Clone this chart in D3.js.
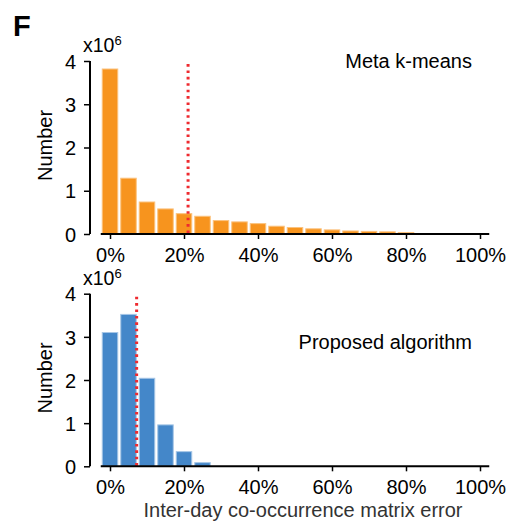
<!DOCTYPE html>
<html>
<head>
<meta charset="utf-8">
<script src="https://cdn.jsdelivr.net/npm/d3@7"></script>
<style>
  html, body { margin: 0; padding: 0; background: #fff; }
  svg { display: block; font-family: "Liberation Sans", Arial, Helvetica, sans-serif; }
</style>
</head>
<body>
<svg id="chart" width="516" height="523"></svg>
<script>
// Histogram bin centres (% error), 5% wide bins
const binCenters = [0, 5, 10, 15, 20, 25, 30, 35, 40, 45, 50, 55, 60, 65, 70, 75, 80, 85, 90, 95, 100];
// Counts in millions per bin
const metaKmeansCounts = [3.815, 1.29, 0.74, 0.58, 0.47, 0.41, 0.31, 0.28, 0.24, 0.18, 0.15, 0.12, 0.095, 0.07, 0.06, 0.05, 0.035, 0.008, 0, 0, 0];
const proposedCounts   = [3.10, 3.52, 2.04, 0.96, 0.34, 0.085, 0, 0, 0, 0, 0, 0, 0, 0, 0, 0, 0, 0, 0, 0, 0];
// Mean error markers (%)
const metaKmeansMean = 21.1;
const proposedMean = 7.2;
const xTicks = [0, 20, 40, 60, 80, 100];
const yTicks = [0, 1, 2, 3, 4];
const panelTitles = ["Meta k-means", "Proposed algorithm"];
const binWidth = 5;

const svg = d3.select("#chart");

const x = d3.scaleLinear().domain([-2.5, 102.5]).range([100.75, 489.25]);

const panels = [
  { title: panelTitles[0], counts: metaKmeansCounts, mean: metaKmeansMean,
    fill: "#F7941E", stroke: "#FBC27E", top: 61, bottom: 234, titleY: 68 },
  { title: panelTitles[1], counts: proposedCounts, mean: proposedMean,
    fill: "#4487C9", stroke: "#A6C6E6", top: 293.7, bottom: 466.3, titleY: 349 }
];

panels.forEach(p => {
  const y = d3.scaleLinear().domain([0, 4]).range([p.bottom, p.top]);
  const g = svg.append("g");

  // bars
  const data = binCenters.map((c, i) => ({ c, v: p.counts[i] })).filter(d => d.v > 0);
  g.selectAll("rect.bar").data(data).enter().append("rect")
    .attr("class", "bar")
    .attr("x", d => x(d.c - binWidth / 2) + 1.5)
    .attr("width", d => x(d.c + binWidth / 2) - x(d.c - binWidth / 2) - 3)
    .attr("y", d => y(d.v))
    .attr("height", d => y(0) - y(d.v))
    .attr("fill", p.fill)
    .attr("stroke", p.stroke)
    .attr("stroke-width", 1);

  // mean marker
  g.append("line")
    .attr("x1", x(p.mean)).attr("x2", x(p.mean))
    .attr("y1", y(3.93)).attr("y2", y(0))
    .attr("stroke", "#EE2A2F")
    .attr("stroke-width", 3)
    .attr("stroke-dasharray", "2.6,3.8");

  // x axis
  const xAxis = g.append("g")
    .attr("transform", `translate(0,${p.bottom})`)
    .call(d3.axisBottom(x).tickValues(xTicks).tickSize(5).tickPadding(4)
      .tickFormat(d => d + "%"));
  xAxis.select(".domain").attr("stroke", "#000").attr("stroke-width", 2)
    .attr("d", `M${x.range()[0]},0H${x.range()[1]}`);
  xAxis.selectAll(".tick line").attr("stroke", "#000").attr("stroke-width", 1.5);
  xAxis.selectAll(".tick text").attr("fill", "#000").attr("font-size", 20)
    .attr("dy", "0.95em");

  // y axis
  const yAxis = g.append("g")
    .attr("transform", "translate(90,0)")
    .call(d3.axisLeft(y).tickValues(yTicks).tickSize(6).tickPadding(8)
      .tickFormat(d3.format("d")));
  yAxis.select(".domain").attr("stroke", "#000").attr("stroke-width", 2)
    .attr("d", `M0,${p.top}V${p.bottom}`);
  yAxis.selectAll(".tick line").attr("stroke", "#000").attr("stroke-width", 1.5);
  yAxis.selectAll(".tick text").attr("fill", "#000").attr("font-size", 20)
    .attr("dy", "0.36em");

  // multiplier
  const mult = g.append("text")
    .attr("x", 83).attr("y", p.top - 9)
    .attr("font-size", 19.5).attr("fill", "#000");
  mult.append("tspan").text("x10");
  mult.append("tspan").attr("font-size", 13).attr("dy", -7).text("6");

  // y label
  g.append("text")
    .attr("transform", `translate(51.5,${(p.top + p.bottom) / 2 - 2}) rotate(-90)`)
    .attr("text-anchor", "middle")
    .attr("font-size", 20).attr("fill", "#000")
    .text("Number");

  // panel title
  g.append("text")
    .attr("x", 472).attr("y", p.titleY)
    .attr("text-anchor", "end")
    .attr("font-size", 20).attr("fill", "#000")
    .text(p.title);
});

// x axis title
svg.append("text")
  .attr("x", 303).attr("y", 517)
  .attr("text-anchor", "middle")
  .attr("font-size", 20).attr("fill", "#333")
  .text("Inter-day co-occurrence matrix error");

// panel letter
svg.append("text")
  .attr("x", 13).attr("y", 36)
  .attr("font-size", 29).attr("font-weight", "bold").attr("fill", "#000")
  .text("F");
</script>
</body>
</html>
